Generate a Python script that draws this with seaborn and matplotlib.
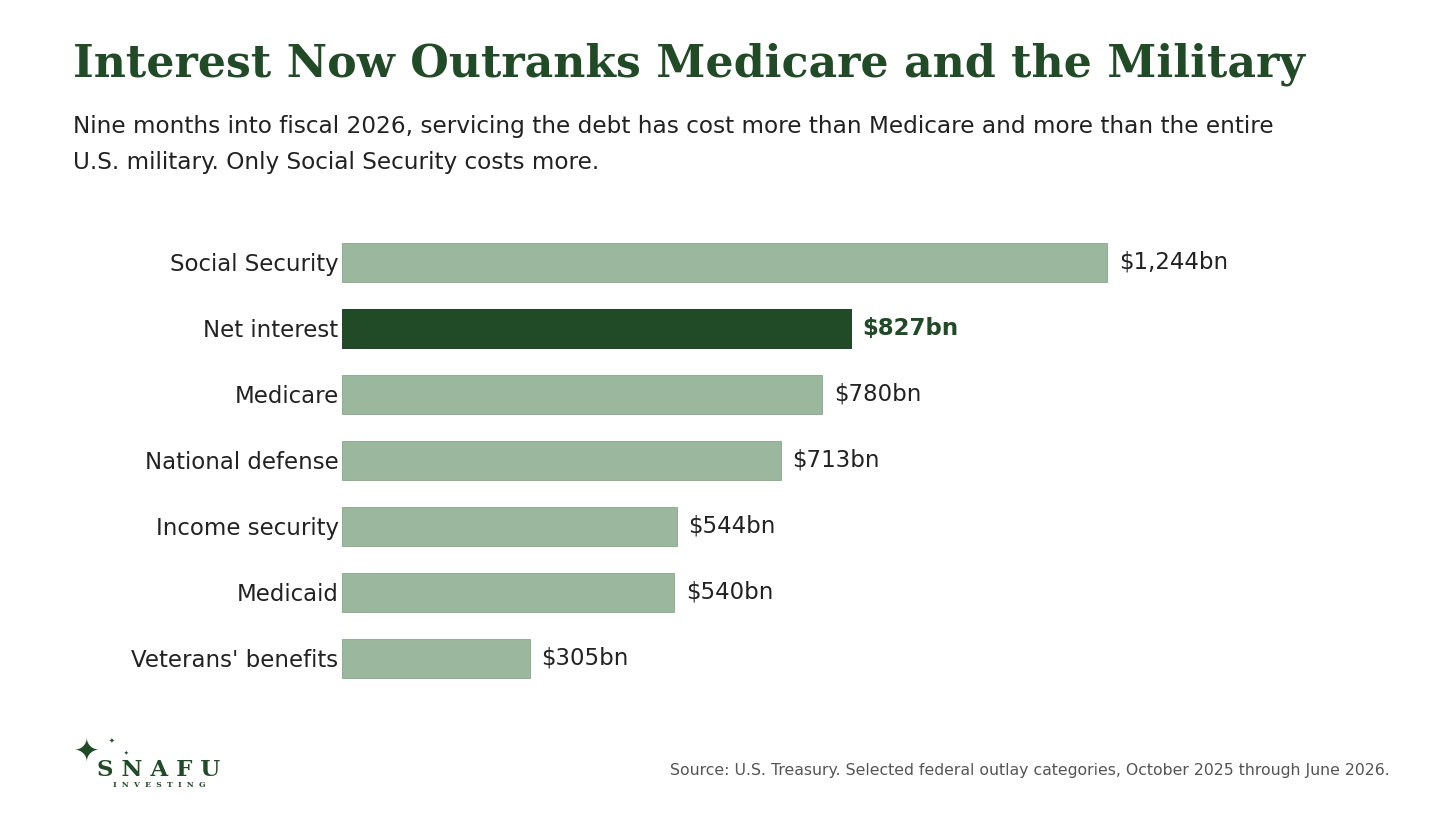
"""
Federal outlays chart: interest vs. other big categories
"""

import matplotlib.pyplot as plt
import seaborn as sns
import pandas as pd

# data
categories = ["Social Security", "Net interest", "Medicare", "National defense",
              "Income security", "Medicaid", "Veterans' benefits"]
outlays_bn = [1244, 827, 780, 713, 544, 540, 305]
value_labels = ["$1,244bn", "$827bn", "$780bn", "$713bn", "$544bn", "$540bn", "$305bn"]
highlight = "Net interest"

DARK = "#214a27"
LIGHT = "#9bb89e"

sns.set_theme(style="white")
plt.rcParams['font.family'] = ['DejaVu Sans']

df = pd.DataFrame({"category": categories, "outlay": outlays_bn})
palette = {c: (DARK if c == highlight else LIGHT) for c in categories}

fig = plt.figure(figsize=(14.56, 8.19), dpi=100)
ax = fig.add_axes([0.2349, 0.1557, 0.7198, 0.5641])

sns.barplot(data=df, x="outlay", y="category", hue="category", palette=palette,
            order=categories, width=0.6, legend=False, ax=ax, saturation=1,
            edgecolor="#86a689", linewidth=0.6)
# darker edge on highlighted bar
for patch, cat in zip(ax.patches, categories):
    if cat == highlight:
        patch.set_edgecolor("#12301a")

ax.set_xlim(0, 1704)
ax.set_ylim(6.5, -0.5)
ax.set_xlabel("")
ax.set_ylabel("")
ax.set_xticks([])
ax.tick_params(axis="y", length=0, pad=2.5, labelsize=16.5, labelcolor="#222222")
sns.despine(ax=ax, left=True, bottom=True)

# value labels
for i, (v, lab, cat) in enumerate(zip(outlays_bn, value_labels, categories)):
    is_hl = cat == highlight
    ax.annotate(lab, xy=(v, i), xytext=(8.6, 0), textcoords="offset points",
                ha="left", va="center", fontsize=16.5,
                color=DARK if is_hl else "#222222",
                fontweight="bold" if is_hl else "normal")

# title and subtitle
fig.text(73 / 1456, 1 - 64 / 819, "Interest Now Outranks Medicare and the Military",
         family="DejaVu Serif", fontweight="bold", fontsize=31.9, color=DARK,
         ha="left", va="center")
fig.text(73 / 1456, 1 - 126 / 819,
         "Nine months into fiscal 2026, servicing the debt has cost more than Medicare and more than the entire",
         fontsize=16.7, color="#222222", ha="left", va="center")
fig.text(73 / 1456, 1 - 163 / 819, "U.S. military. Only Social Security costs more.",
         fontsize=16.7, color="#222222", ha="left", va="center")

# source
fig.text(1390 / 1456, 1 - 771 / 819,
         "Source: U.S. Treasury. Selected federal outlay categories, October 2025 through June 2026.",
         fontsize=11.3, color="#555555", ha="right", va="center")

# logo
fig.text(86 / 1456, 1 - 752 / 819, "\u2726", fontsize=22, color=DARK, ha="center", va="center")
fig.text(112 / 1456, 1 - 741 / 819, "\u2726", fontsize=5, color=DARK, ha="center", va="center")
fig.text(126 / 1456, 1 - 753 / 819, "\u2726", fontsize=4, color=DARK, ha="center", va="center")
fig.text(159 / 1456, 1 - 770 / 819, "S N A F U", family="DejaVu Serif", fontweight="bold",
         fontsize=16.5, color=DARK, ha="center", va="center")
fig.text(159 / 1456, 1 - 785 / 819, "I  N  V  E  S  T  I  N  G", family="DejaVu Serif",
         fontweight="bold", fontsize=5.5, color=DARK, ha="center", va="center")

fig.savefig("out.png", dpi=100, facecolor="white")
